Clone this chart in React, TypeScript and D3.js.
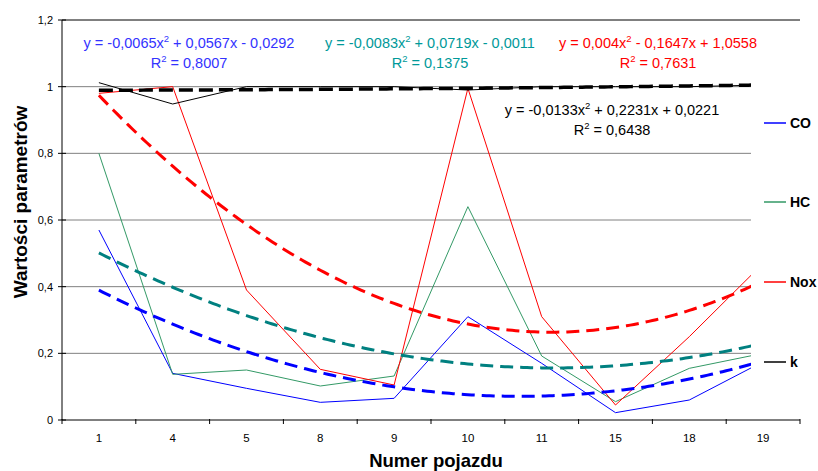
import React from 'react';
import * as d3 from 'd3';

const categories = ['1', '4', '5', '8', '9', '10', '11', '15', '18', '19'];
const coValues = [0.57, 0.14, 0.095, 0.053, 0.065, 0.31, 0.17, 0.022, 0.06, 0.175];
const hcValues = [0.8, 0.137, 0.15, 0.102, 0.132, 0.64, 0.192, 0.055, 0.155, 0.2];
const noxValues = [0.98, 1.0, 0.39, 0.152, 0.105, 0.995, 0.31, 0.045, 0.25, 0.47];
const kValues = [1.012, 0.948, 1.0, 1.0, 1.0, 0.99, 1.0, 1.0, 1.0, 1.005];
const yTicks = [0, 0.2, 0.4, 0.6, 0.8, 1.0, 1.2];
const yTickLabels = ['0', '0,2', '0,4', '0,6', '0,8', '1', '1,2'];
const seriesNames = ['CO', 'HC', 'Nox', 'k'];
const eqTexts = [
  ['y = -0,0065x', ' + 0,0567x - 0,0292', 'R', ' = 0,8007'],
  ['y = -0,0083x', ' + 0,0719x - 0,0011', 'R', ' = 0,1375'],
  ['y = 0,004x', ' - 0,1647x + 1,0558', 'R', ' = 0,7631'],
  ['y = -0,0133x', ' + 0,2231x + 0,0221', 'R', ' = 0,6438'],
];

const W = 818;
const H = 471;
const left = 62;
const right = 800;
const top = 20;
const bottom = 420;
const clipRight = 751;

const lineColors = ['#0000ff', '#339966', '#ff0000', '#000000'];
const trendColors = ['#0000ff', '#008080', '#ff0000', '#000000'];
const eqColors = ['#3333ff', '#009999', '#ff0000', '#000000'];
const eqPos = [
  { x: 189, y: 48 },
  { x: 430, y: 48 },
  { x: 658, y: 48 },
  { x: 612, y: 115 },
];
const legendY = [123, 202, 282, 362];

function polyfit2(xs: number[], ys: number[]) {
  // least squares quadratic fit: y = a x^2 + b x + c
  let s0 = 0, s1 = 0, s2 = 0, s3 = 0, s4 = 0, t0 = 0, t1 = 0, t2 = 0;
  xs.forEach((x, i) => {
    const y = ys[i];
    s0 += 1; s1 += x; s2 += x * x; s3 += x * x * x; s4 += x * x * x * x;
    t0 += y; t1 += x * y; t2 += x * x * y;
  });
  const M = [
    [s4, s3, s2, t2],
    [s3, s2, s1, t1],
    [s2, s1, s0, t0],
  ];
  for (let i = 0; i < 3; i++) {
    for (let j = i + 1; j < 3; j++) {
      const f = M[j][i] / M[i][i];
      for (let k = i; k < 4; k++) M[j][k] -= f * M[i][k];
    }
  }
  const sol = [0, 0, 0];
  for (let i = 2; i >= 0; i--) {
    let s = M[i][3];
    for (let k = i + 1; k < 3; k++) s -= M[i][k] * sol[k];
    sol[i] = s / M[i][i];
  }
  return sol; // [a, b, c]
}

export default function App() {
  const x = d3.scaleBand<string>().domain(categories).range([left, right]);
  const bw = x.bandwidth();
  const cx = (c: string) => (x(c) as number) + bw / 2;
  const y = d3.scaleLinear().domain([0, 1.2]).range([bottom, top]);
  const xIdx = d3.scaleLinear().domain([1, categories.length]).range([cx(categories[0]), cx(categories[categories.length - 1])]);

  const allSeries = [coValues, hcValues, noxValues, kValues];
  const line = d3
    .line<number>()
    .x((_, i) => cx(categories[i]))
    .y((d) => y(d));

  const idx = categories.map((_, i) => i + 1);
  const samples = d3.range(1, categories.length + 0.001, 0.05);
  const trendLine = d3
    .line<[number, number]>()
    .x((d) => xIdx(d[0]))
    .y((d) => y(d[1]));
  const trends = allSeries.map((vals) => {
    const [a, b, c] = polyfit2(idx, vals);
    return trendLine(samples.map((t) => [t, a * t * t + b * t + c] as [number, number]));
  });

  const font = 'Liberation Sans, Arial, sans-serif';

  return (
    <svg width={W} height={H} style={{ position: 'absolute', left: 0, top: 0, background: '#fff' }} fontFamily={font}>
      <defs>
        <clipPath id="plotClip">
          <rect x={left} y={top - 5} width={clipRight - left} height={bottom - top + 10} />
        </clipPath>
      </defs>
      <rect x={0} y={0} width={W} height={H} fill="#fff" />
      {/* gridlines */}
      {yTicks.slice(1, -1).map((t) => (
        <line key={t} x1={left} x2={clipRight} y1={y(t)} y2={y(t)} stroke="#808080" strokeWidth={1} />
      ))}
      {/* top border */}
      <line x1={left} x2={right} y1={y(1.2)} y2={y(1.2)} stroke="#000" strokeWidth={1} />
      <g clipPath="url(#plotClip)">
        {allSeries.map((vals, i) => (
          <path key={'l' + i} d={line(vals) || ''} fill="none" stroke={lineColors[i]} strokeWidth={1} />
        ))}
        {trends.map((d, i) => (
          <path
            key={'t' + i}
            d={d || ''}
            fill="none"
            stroke={trendColors[i]}
            strokeWidth={i === 3 ? 3.5 : 3}
            strokeDasharray={i === 3 ? '14,6' : '13,7'}
          />
        ))}
      </g>
      {/* y axis */}
      <line x1={left} x2={left} y1={top} y2={bottom} stroke="#000" strokeWidth={1} />
      {yTicks.map((t, i) => (
        <g key={'yt' + t}>
          <line x1={left - 4} x2={left + 4} y1={y(t)} y2={y(t)} stroke="#000" />
          <text x={left - 9} y={y(t) + 4} fontSize={11} textAnchor="end" fill="#000">
            {yTickLabels[i]}
          </text>
        </g>
      ))}
      {/* x axis */}
      <line x1={left} x2={right} y1={bottom} y2={bottom} stroke="#000" strokeWidth={1} />
      {[...categories.map((c) => x(c) as number), right].map((px, i) => (
        <line key={'xt' + i} x1={px} x2={px} y1={bottom - 1} y2={bottom + 4} stroke="#000" />
      ))}
      {categories.map((c) => (
        <text key={'xl' + c} x={cx(c)} y={442} fontSize={11.5} textAnchor="middle" fill="#000">
          {c}
        </text>
      ))}
      {/* axis titles */}
      <text x={436} y={467} fontSize={18.5} fontWeight="bold" textAnchor="middle" fill="#000">
        Numer pojazdu
      </text>
      <text
        transform={`translate(27, 202) rotate(-90)`}
        fontSize={19}
        fontWeight="bold"
        textAnchor="middle"
        fill="#000"
      >
        Wartości parametrów
      </text>
      {/* equations */}
      {eqTexts.map((e, i) => (
        <g key={'eq' + i} fill={eqColors[i]} fontSize={14.5}>
          <text x={eqPos[i].x} y={eqPos[i].y} textAnchor="middle">
            {e[0]}
            <tspan fontSize={9.5} dy={-6}>2</tspan>
            <tspan dy={6}>{e[1]}</tspan>
          </text>
          <text x={eqPos[i].x} y={eqPos[i].y + 20} textAnchor="middle">
            {e[2]}
            <tspan fontSize={9.5} dy={-6}>2</tspan>
            <tspan dy={6}>{e[3]}</tspan>
          </text>
        </g>
      ))}
      {/* legend */}
      {seriesNames.map((n, i) => (
        <g key={'lg' + n}>
          <line x1={764} x2={786} y1={legendY[i]} y2={legendY[i]} stroke={lineColors[i]} strokeWidth={1.5} />
          <text x={790} y={legendY[i] + 5} fontSize={14} fontWeight="bold" fill="#000">
            {n}
          </text>
        </g>
      ))}
    </svg>
  );
}
